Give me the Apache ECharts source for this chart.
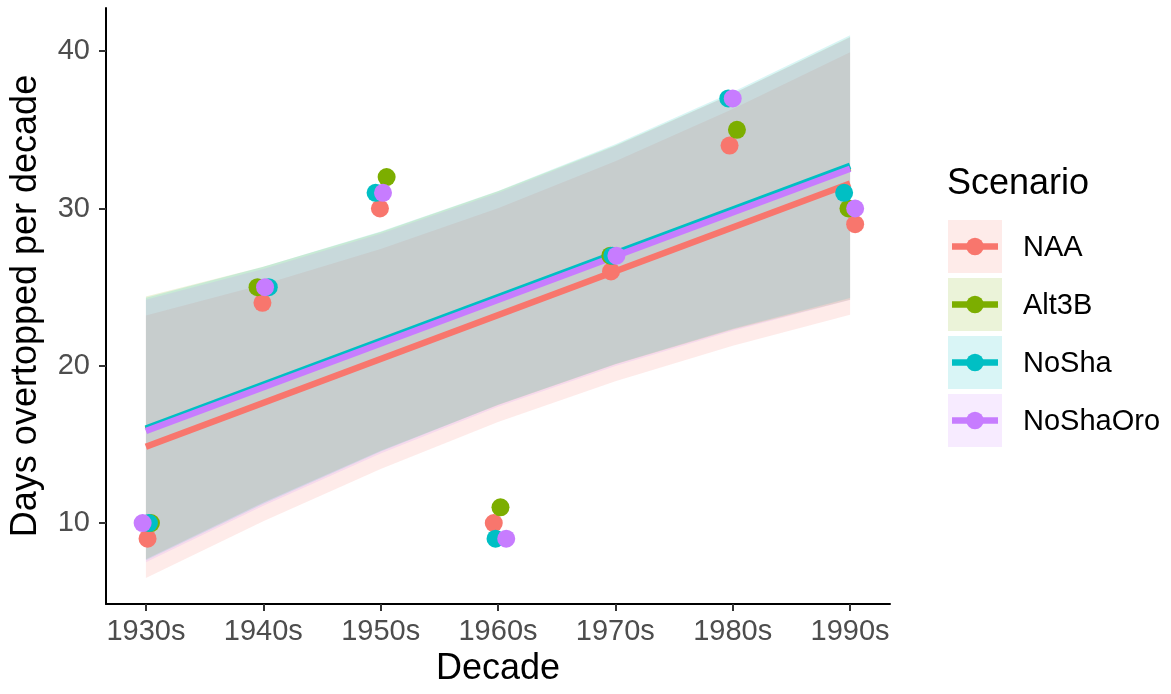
<!DOCTYPE html>
<html>
<head>
<meta charset="utf-8">
<script src="https://cdn.jsdelivr.net/npm/echarts@6/dist/echarts.min.js"></script>
<style>html,body{margin:0;padding:0;background:#fff}#chart{width:1171px;height:694px}</style>
</head>
<body>
<div id="chart"></div>
<script>
// ---- data ----
const decades = ['1930s', '1940s', '1950s', '1960s', '1970s', '1980s', '1990s'];
const decadeIndex = [0, 1, 2, 3, 4, 5, 6];
const yTicks = [10, 20, 30, 40];
const scenarios = ['NAA', 'Alt3B', 'NoSha', 'NoShaOro'];
const colors = ['#F8766D', '#7CAE00', '#00BFC4', '#C77CFF'];

// observed days overtopped per decade
const naaDays      = [9, 24, 30, 10, 26, 34, 29];
const alt3bDays    = [10, 25, 32, 11, 27, 35, 30];
const noShaDays    = [10, 25, 31, 9, 27, 37, 31];
const noShaOroDays = [10, 25, 31, 9, 27, 37, 30];

// horizontal jitter of points (in decade units)
const naaJitter      = [0.014, -0.007, -0.006, -0.036, -0.037, -0.027, 0.043];
const alt3bJitter    = [0.043, -0.049, 0.051, 0.021, -0.043, 0.036, -0.014];
const noShaJitter    = [0.026, 0.047, -0.043, -0.021, -0.026, -0.038, -0.051];
const noShaOroJitter = [-0.028, 0.015, 0.020, 0.070, 0.009, 0.000, 0.043];

// linear fit: value at 1930s and at 1990s
const naaFit      = [14.85, 31.59];
const alt3bFit    = [15.95, 32.60];
const noShaFit    = [16.00, 32.72];
const noShaOroFit = [15.85, 32.53];

// confidence band (lower / upper) at each decade
const naaLower      = [6.50, 10.11, 13.44, 16.42, 19.02, 21.27, 23.24];
const naaUpper      = [23.20, 25.17, 27.42, 30.02, 33.00, 36.33, 39.94];
const alt3bLower    = [7.70, 11.30, 14.60, 17.50, 20.10, 22.30, 24.20];
const alt3bUpper    = [24.40, 26.30, 28.50, 31.10, 34.00, 37.30, 40.90];
const noShaLower    = [7.63, 11.23, 14.55, 17.52, 20.11, 22.35, 24.31];
const noShaUpper    = [24.33, 26.29, 28.53, 31.12, 34.09, 37.41, 41.01];
const noShaOroLower = [7.50, 11.10, 14.42, 17.39, 19.98, 22.22, 24.18];
const noShaOroUpper = [24.20, 26.16, 28.40, 30.99, 33.96, 37.28, 40.88];

// ---- build ----
const days = [naaDays, alt3bDays, noShaDays, noShaOroDays];
const jitters = [naaJitter, alt3bJitter, noShaJitter, noShaOroJitter];
const fits = [naaFit, alt3bFit, noShaFit, noShaOroFit];
const lowers = [naaLower, alt3bLower, noShaLower, noShaOroLower];
const uppers = [naaUpper, alt3bUpper, noShaUpper, noShaOroUpper];

function rgba(hex, a) {
  const r = parseInt(hex.slice(1, 3), 16), g = parseInt(hex.slice(3, 5), 16), b = parseInt(hex.slice(5, 7), 16);
  return 'rgba(' + r + ',' + g + ',' + b + ',' + a + ')';
}
const FONT = '"Liberation Sans", Arial, Helvetica, sans-serif';
const series = [];
scenarios.forEach((name, i) => {
  const lo = lowers[i], hi = uppers[i];
  series.push({
    type: 'custom', name: name + ' band', silent: true, z: 1,
    data: decadeIndex.map((x, k) => [x, lo[k], hi[k]]),
    encode: { x: 0, y: [1, 2] },
    renderItem: function (params, api) {
      if (params.dataIndex !== 0) return null;
      const top = decadeIndex.map((x, k) => api.coord([x, hi[k]]));
      const bottom = decadeIndex.map((x, k) => api.coord([x, lo[k]])).reverse();
      return {
        type: 'polygon',
        shape: { points: top.concat(bottom) },
        style: { fill: rgba(colors[i], 0.15), stroke: 'none' }
      };
    }
  });
});
scenarios.forEach((name, i) => {
  series.push({
    type: 'line', name: name + ' fit', symbol: 'none', silent: true, z: 3,
    lineStyle: { color: colors[i], width: 6.5, cap: 'butt' },
    data: [[decadeIndex[0], fits[i][0]], [decadeIndex[decadeIndex.length - 1], fits[i][1]]]
  });
});
scenarios.forEach((name, i) => {
  series.push({
    type: 'scatter', name: name, symbolSize: 18, z: 4,
    itemStyle: { color: colors[i], opacity: 1 },
    data: decadeIndex.map((x, k) => [x + jitters[i][k], days[i][k]])
  });
});

// legend drawn as graphic
const graphic = [{
  type: 'text', x: 947, y: 184,
  style: { text: 'Scenario', font: '36px ' + FONT, fill: '#000', verticalAlign: 'middle', align: 'left' }
}];
scenarios.forEach((name, i) => {
  const top = 220 + i * 58;
  const cy = top + 26.5;
  graphic.push({ type: 'rect', shape: { x: 948, y: top, width: 54, height: 53 }, style: { fill: rgba(colors[i], 0.15) } });
  graphic.push({ type: 'line', shape: { x1: 952, y1: cy, x2: 998, y2: cy }, style: { stroke: colors[i], lineWidth: 6.5 } });
  graphic.push({ type: 'circle', shape: { cx: 975, cy: cy, r: 8.7 }, style: { fill: colors[i] } });
  graphic.push({ type: 'text', x: 1023, y: cy + 1, style: { text: name, font: '29px ' + FONT, fill: '#000', verticalAlign: 'middle', align: 'left' } });
});

const chart = echarts.init(document.getElementById('chart'), null, { renderer: 'canvas' });
chart.setOption({
  animation: false,
  backgroundColor: '#fff',
  textStyle: { fontFamily: FONT },
  grid: { left: 105, right: 281, top: 8, bottom: 90, containLabel: false },
  xAxis: {
    type: 'value', min: -0.34, max: 6.34,
    name: 'Decade', nameLocation: 'middle', nameGap: 44,
    nameTextStyle: { fontSize: 36, color: '#000', fontFamily: FONT },
    axisLine: { show: true, onZero: false, lineStyle: { color: '#000', width: 2 } },
    axisTick: { show: true, customValues: decadeIndex, length: 7, lineStyle: { color: '#333', width: 2 } },
    axisLabel: { customValues: decadeIndex, formatter: v => decades[Math.round(v)], fontSize: 29, color: '#4D4D4D', margin: 13, fontFamily: FONT },
    splitLine: { show: false }
  },
  yAxis: {
    type: 'value', min: 4.85, max: 42.75,
    name: 'Days overtopped per decade', nameLocation: 'middle', nameGap: 62, nameRotate: 90,
    nameTextStyle: { fontSize: 36, color: '#000', fontFamily: FONT },
    axisLine: { show: true, onZero: false, lineStyle: { color: '#000', width: 2 } },
    axisTick: { show: true, customValues: yTicks, length: 7, lineStyle: { color: '#333', width: 2 } },
    axisLabel: { customValues: yTicks, fontSize: 29, color: '#4D4D4D', margin: 16, fontFamily: FONT },
    splitLine: { show: false }
  },
  graphic: graphic,
  series: series
});
</script>
</body>
</html>
